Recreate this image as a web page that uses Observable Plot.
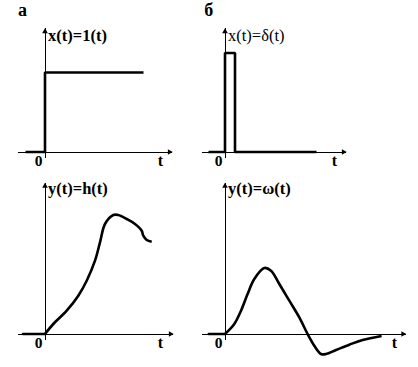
<!DOCTYPE html>
<html>
<head>
<meta charset="utf-8">
<script src="https://cdn.jsdelivr.net/npm/d3@7"></script>
<script src="https://cdn.jsdelivr.net/npm/@observablehq/plot@0.6"></script>
<style>
  html, body { margin: 0; padding: 0; background: #fff; }
  #chart { position: relative; width: 418px; height: 367px; overflow: hidden; }
  #chart svg { position: absolute; }
</style>
</head>
<body>
<div id="chart"></div>
<script>
// ---- data (units: t along the time axis, value along the vertical axis) ----
const panelLetters = ["а", "б"];
const titles = ["x(t)=1(t)", "x(t)=δ(t)", "y(t)=h(t)", "y(t)=ω(t)"];
const tickLabels = ["0", "t"];

// step input 1(t)
const stepT = [-1.95, 0, 0, 9.85];
const stepV = [0, 0, 7.95, 7.95];

// impulse input δ(t)
const pulseT = [-1.65, 0, 0, 1.0, 1.0, 9.15];
const pulseV = [0, 0, 9.9, 9.9, 0, 0];

// step response h(t)
const hBaseT = [-2.2, 0];
const hT = [0, 0.83, 2.17, 3.33, 4.17, 5.0, 5.5, 6.0, 6.83, 7.33, 8.17, 9.0, 9.67, 9.83, 10.17, 10.67];
const hV = [0, 1.0, 2.33, 3.83, 5.33, 7.33, 9.17, 11.0, 11.9, 11.9, 11.5, 11.0, 10.33, 9.83, 9.4, 9.23];

// impulse response ω(t)
const wBaseT = [-1.62, 0];
const wT = [0, 0.93, 1.6, 2.26, 2.93, 3.93, 4.6, 5.43, 6.43, 7.43, 8.26, 8.93, 9.6, 10.1, 11.1, 12.43, 13.76, 15.66];
const wV = [0, 1.0, 2.33, 4.0, 5.5, 6.6, 6.33, 5.0, 3.33, 1.66, 0, -1.17, -2.0, -2.0, -1.6, -1.07, -0.6, -0.2];

const toRows = (ts, vs) => ts.map((t, i) => ({t, v: vs[i]}));

// ---- layout: each panel is its own plot, 10 px per unit ----
const PX = 10;
const panels = [
  {left: 0,   top: 0,   w: 190, h: 176, ox: 44.5, oy: 151.5, tAxis: [-2.65, 12.75], vAxis: [-0.6, 12.35],
   title: titles[0], bold: true, tPos: 11.55, letter: panelLetters[0], letterPos: [-2.25, 13.6],
   baseline: null, curve: toRows(stepT, stepV), curveType: "linear", titleY: 11.15},
  {left: 190, top: 0,   w: 228, h: 176, ox: 34.5, oy: 151.5, tAxis: [-2.3, 12.15], vAxis: [-0.65, 12.35],
   title: titles[1], bold: false, tPos: 10.95, letter: panelLetters[1], letterPos: [-1.62, 13.6],
   baseline: null, curve: toRows(pulseT, pulseV), curveType: "linear", titleY: 11.15},
  {left: 0,   top: 176, w: 190, h: 191, ox: 44.5, oy: 157.5, tAxis: [-2.65, 12.85], vAxis: [-0.65, 15.1],
   title: titles[2], bold: true, tPos: 11.55, letter: null,
   baseline: toRows(hBaseT, [0, 0]), curve: toRows(hT, hV), curveType: "catmull-rom", titleY: 14.05},
  {left: 190, top: 176, w: 228, h: 191, ox: 34.5, oy: 157.5, tAxis: [-2.3, 18.1], vAxis: [-0.65, 15.1],
   title: titles[3], bold: true, tPos: 16.95, letter: null,
   baseline: toRows(wBaseT, [0, 0]), curve: toRows(wT, wV), curveType: "catmull-rom", titleY: 14.05}
];

const FONT = "Liberation Serif";
const chart = document.getElementById("chart");

for (const p of panels) {
  const marks = [
    // time axis
    Plot.ruleY([0], {x1: p.tAxis[0], x2: p.tAxis[1], stroke: "black", strokeWidth: 1, shapeRendering: "crispEdges"}),
    Plot.dot([0], {x: p.tAxis[1], y: 0, symbol: "triangle", r: 2.1, rotate: 90, fill: "black", stroke: "none", dx: -3}),
    // value axis
    Plot.ruleX([0], {y1: p.vAxis[0], y2: p.vAxis[1], stroke: "black", strokeWidth: 1, shapeRendering: "crispEdges"}),
    Plot.dot([0], {x: 0, y: p.vAxis[1], symbol: "triangle", r: 2.1, fill: "black", stroke: "none", dy: 3}),
    // tick labels
    Plot.text([tickLabels[0]], {x: 0, y: 0, text: d => d, dx: -6.5, dy: 13.5, lineAnchor: "bottom",
      fontFamily: FONT, fontWeight: "bold", fontSize: 15.5, fill: "black"}),
    Plot.text([tickLabels[1]], {x: p.tPos, y: 0, text: d => d, dy: 13.5, lineAnchor: "bottom",
      fontFamily: FONT, fontWeight: "bold", fontSize: 16, fill: "black"}),
    // title
    Plot.text([p.title], {x: 0, y: p.titleY, text: d => d, dx: 3, textAnchor: "start", lineAnchor: "bottom",
      fontFamily: FONT, fontWeight: p.bold ? "bold" : "normal", fontSize: 16.5, fill: "black"}),
  ];
  if (p.baseline) {
    marks.push(Plot.line(p.baseline, {x: "t", y: "v", stroke: "black", strokeWidth: 2.6}));
  }
  marks.push(Plot.line(p.curve, {x: "t", y: "v", stroke: "black", strokeWidth: 2.6, curve: p.curveType,
    strokeLinejoin: "miter", strokeLinecap: "butt"}));
  if (p.letter) {
    marks.push(Plot.text([p.letter], {x: p.letterPos[0], y: p.letterPos[1], text: d => d, lineAnchor: "bottom",
      fontFamily: FONT, fontWeight: "bold", fontSize: 18, fill: "black"}));
  }
  const svg = Plot.plot({
    width: p.w,
    height: p.h,
    margin: 0,
    x: {domain: [-p.ox / PX, (p.w - p.ox) / PX], range: [0, p.w]},
    y: {domain: [(p.oy - p.h) / PX, p.oy / PX], range: [p.h, 0]},
    axis: null,
    style: {background: "transparent", overflow: "visible", fontFamily: FONT},
    marks
  });
  svg.style.left = p.left + "px";
  svg.style.top = p.top + "px";
  chart.appendChild(svg);
}
</script>
</body>
</html>
